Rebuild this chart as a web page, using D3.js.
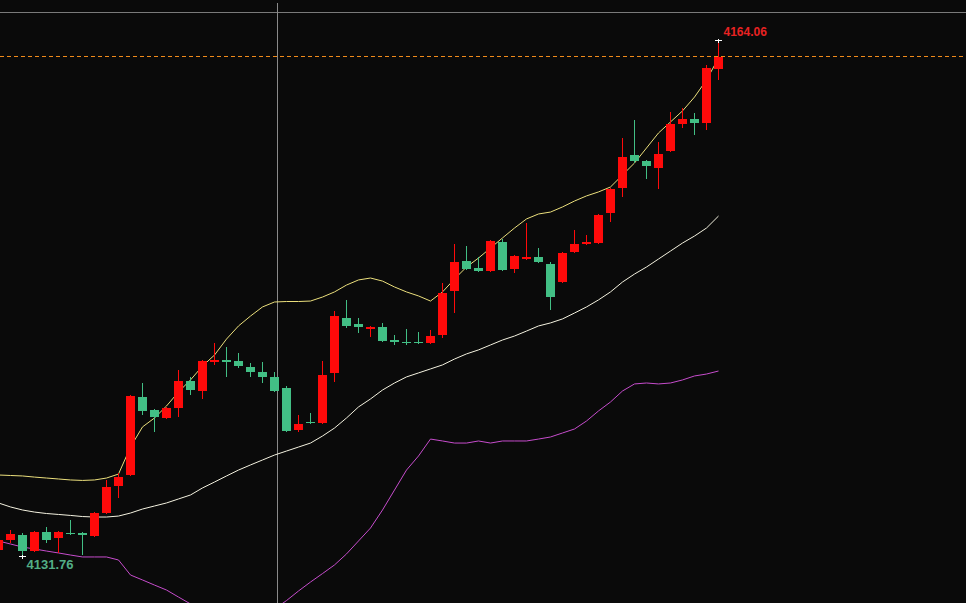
<!DOCTYPE html>
<html>
<head>
<meta charset="utf-8">
<script src="https://cdn.jsdelivr.net/npm/d3@7/dist/d3.min.js"></script>
<style>
  html, body { margin: 0; padding: 0; background: #0a0a0a; overflow: hidden; }
  svg { display: block; }
</style>
</head>
<body>
<svg id="chart" width="966" height="603"></svg>
<script>
// ---- data (prices) ----
const openP = [4132.14,4132.76,4133.07,4132.07,4133.26,4132.89,4133.20,4133.20,4133.01,4134.45,
  4136.14,4136.83,4141.71,4140.90,4140.40,4141.02,4142.71,4142.09,4143.90,4144.03,
  4143.97,4143.59,4143.28,4142.96,4142.28,4139.65,4140.15,4140.09,4143.22,4146.66,
  4146.28,4146.03,4146.09,4145.28,4145.16,4145.16,4145.09,4145.59,4148.35,4150.23,
  4149.79,4149.60,4151.42,4149.73,4150.35,4150.48,4150.04,4148.91,4150.79,4151.29,
  4151.35,4153.23,4154.80,4156.86,4156.49,4156.05,4157.11,4158.80,4159.12,4158.86,4162.24];
const closeP = [4132.76,4133.14,4132.07,4133.26,4132.76,4133.26,4133.11,4133.07,4134.45,4136.08,
  4136.71,4141.78,4140.84,4140.46,4141.02,4142.71,4142.15,4143.97,4144.03,4143.93,
  4143.65,4143.28,4142.96,4142.09,4139.59,4140.02,4140.09,4143.09,4146.78,4146.16,
  4146.09,4146.09,4145.22,4145.16,4145.09,4145.09,4145.53,4148.22,4150.16,4149.73,
  4149.60,4151.48,4149.66,4150.54,4150.48,4150.16,4147.97,4150.73,4151.29,4151.42,
  4153.11,4154.73,4156.74,4156.49,4156.17,4156.92,4158.80,4159.12,4158.86,4162.31,4163.00];
const highP = [4132.95,4133.39,4133.20,4133.33,4133.58,4133.33,4134.01,4133.26,4134.51,4136.52,
  4136.96,4141.84,4142.59,4140.96,4141.09,4143.40,4142.96,4144.03,4145.09,4144.84,
  4144.47,4143.84,4143.90,4143.28,4142.40,4140.59,4140.71,4143.97,4147.10,4147.78,
  4146.66,4146.16,4146.35,4145.59,4145.97,4145.78,4145.91,4148.85,4151.29,4151.17,
  4150.48,4151.54,4151.60,4150.60,4152.60,4151.04,4150.16,4150.79,4152.17,4151.85,
  4153.17,4154.80,4157.93,4159.05,4156.55,4157.68,4159.55,4159.80,4159.49,4162.49,4164.06];
const lowP = [4132.01,4132.57,4131.76,4132.01,4132.57,4131.95,4133.07,4131.82,4132.95,4134.39,
  4135.39,4136.77,4140.59,4139.52,4140.34,4140.46,4141.84,4141.59,4143.72,4142.96,
  4143.53,4142.96,4142.59,4142.03,4139.52,4139.52,4140.02,4140.02,4142.65,4146.03,
  4145.72,4145.47,4145.16,4144.97,4144.97,4145.03,4145.03,4145.41,4146.97,4149.66,
  4149.54,4149.54,4149.60,4149.48,4150.29,4150.10,4147.16,4148.85,4150.73,4151.23,
  4151.29,4152.67,4154.23,4156.36,4155.36,4154.73,4157.05,4158.55,4158.11,4158.43,4161.56];
const upperBand = [4136.83,4136.80,4136.77,4136.70,4136.64,4136.58,4136.52,4136.49,4136.52,4136.64,
  4136.89,4138.58,4139.84,4140.40,4141.15,4142.03,4142.78,4143.65,4144.34,4145.34,
  4146.16,4146.78,4147.35,4147.66,4147.69,4147.69,4147.72,4147.97,4148.29,4148.72,
  4149.04,4149.16,4148.97,4148.60,4148.29,4148.04,4147.72,4148.29,4149.10,4149.85,
  4150.41,4151.04,4151.67,4152.29,4152.86,4153.17,4153.29,4153.61,4153.98,4154.30,
  4154.55,4154.86,4155.61,4156.36,4157.30,4158.24,4158.93,4159.62,4160.49,4161.56,4162.93];
const midBand = [4135.08,4134.83,4134.64,4134.51,4134.42,4134.36,4134.30,4134.23,4134.20,4134.20,
  4134.26,4134.45,4134.70,4134.89,4135.08,4135.33,4135.58,4136.02,4136.39,4136.77,
  4137.14,4137.46,4137.77,4138.08,4138.33,4138.58,4138.83,4139.27,4139.77,4140.40,
  4141.09,4141.59,4142.15,4142.59,4142.97,4143.22,4143.47,4143.72,4144.09,4144.41,
  4144.66,4144.97,4145.28,4145.53,4145.84,4146.16,4146.35,4146.60,4146.97,4147.35,
  4147.79,4148.29,4148.91,4149.41,4149.85,4150.35,4150.85,4151.35,4151.79,4152.29,4153.04];
const lowerBand = [4132.70,4132.51,4132.32,4132.20,4132.07,4131.95,4131.82,4131.70,4131.70,4131.70,
  4131.51,4130.57,4130.26,4129.94,4129.63,4129.19,4128.76,4128.32,4127.88,4127.50,
  4127.25,4127.32,4127.88,4128.44,4128.97,4129.57,4130.13,4130.66,4131.20,4131.89,
  4132.70,4133.51,4134.64,4135.89,4137.14,4138.02,4139.08,4138.96,4138.83,4138.83,
  4138.96,4138.83,4138.96,4138.96,4138.96,4139.08,4139.21,4139.46,4139.71,4140.21,
  4140.84,4141.40,4142.09,4142.53,4142.59,4142.53,4142.59,4142.78,4143.03,4143.15,4143.34];
const highLabel = "4164.06";
const lowLabel = "4131.76";

// ---- layout ----
const W = 966, H = 603;
const svg = d3.select("#chart");
svg.append("rect").attr("width", W).attr("height", H).attr("fill", "#0a0a0a");

const idx = openP.map((_, i) => i);
const x = d3.scaleBand().domain(idx).range([-7.5, 724.5]).paddingInner(0.25).paddingOuter(0.125);
const y = d3.scaleLinear().domain([4131.76, 4164.06]).range([556, 40]);
const xc = i => x(i) + x.bandwidth() / 2;

const UP = "#ff0a0a", DOWN = "#42bf85";

// frame lines
svg.append("line").attr("x1", 0).attr("x2", W).attr("y1", 12.5).attr("y2", 12.5)
  .attr("stroke", "#7a7a7a").attr("stroke-width", 1);
svg.append("line").attr("x1", 277.5).attr("x2", 277.5).attr("y1", 3).attr("y2", H)
  .attr("stroke", "#8a8a8a").attr("stroke-width", 1);

// last price dashed line
const lastClose = closeP[closeP.length - 1];
svg.append("line").attr("x1", 0).attr("x2", W)
  .attr("y1", Math.round(y(lastClose)) - 0.5).attr("y2", Math.round(y(lastClose)) - 0.5)
  .attr("stroke", "#f08a1a").attr("stroke-width", 1).attr("stroke-dasharray", "4,3")
  .attr("shape-rendering", "crispEdges");

// bands
const line = d3.line().x((d, i) => xc(i)).y(d => y(d));
const bands = [
  { data: upperBand, color: "#ebdf7c" },
  { data: midBand, color: "#f4f2e0" },
  { data: lowerBand, color: "#c64ccc" }
];
bands.forEach(b => {
  svg.append("path").datum(b.data).attr("d", line)
    .attr("fill", "none").attr("stroke", b.color).attr("stroke-width", 1);
});

// candles
const g = svg.append("g").attr("shape-rendering", "crispEdges");
idx.forEach(i => {
  const o = openP[i], c = closeP[i];
  const col = c >= o ? UP : DOWN;
  g.append("line").attr("x1", Math.floor(xc(i)) + 0.5).attr("x2", Math.floor(xc(i)) + 0.5)
    .attr("y1", y(highP[i])).attr("y2", y(lowP[i]))
    .attr("stroke", col).attr("stroke-width", 1);
  const top = y(Math.max(o, c)), bot = y(Math.min(o, c));
  g.append("rect").attr("x", x(i)).attr("width", x.bandwidth())
    .attr("y", top).attr("height", Math.max(1.5, bot - top))
    .attr("fill", col);
});

// high / low markers
const iHi = d3.maxIndex(highP), iLo = d3.minIndex(lowP);
function marker(i, v) {
  const cx = Math.floor(xc(i)) + 0.5, cy = Math.round(y(v)) + 0.5;
  g.append("line").attr("x1", cx - 3.5).attr("x2", cx + 3.5).attr("y1", cy).attr("y2", cy)
    .attr("stroke", "#ffffff").attr("stroke-width", 1);
  g.append("line").attr("x1", cx).attr("x2", cx).attr("y1", cy - 2).attr("y2", cy + 2)
    .attr("stroke", "#ffffff").attr("stroke-width", 1);
}
marker(iHi, highP[iHi]);
marker(iLo, lowP[iLo]);

svg.append("text").attr("x", xc(iHi) + 5).attr("y", y(highP[iHi]) - 4)
  .attr("fill", "#e82222").attr("font-family", "Liberation Sans, Arial, sans-serif")
  .attr("font-size", 12).attr("font-weight", "bold").text(highLabel);
svg.append("text").attr("x", xc(iLo) + 4).attr("y", y(lowP[iLo]) + 13)
  .attr("fill", "#52ae86").attr("font-family", "Liberation Sans, Arial, sans-serif")
  .attr("font-size", 13).attr("font-weight", "bold").text(lowLabel);
</script>
</body>
</html>
